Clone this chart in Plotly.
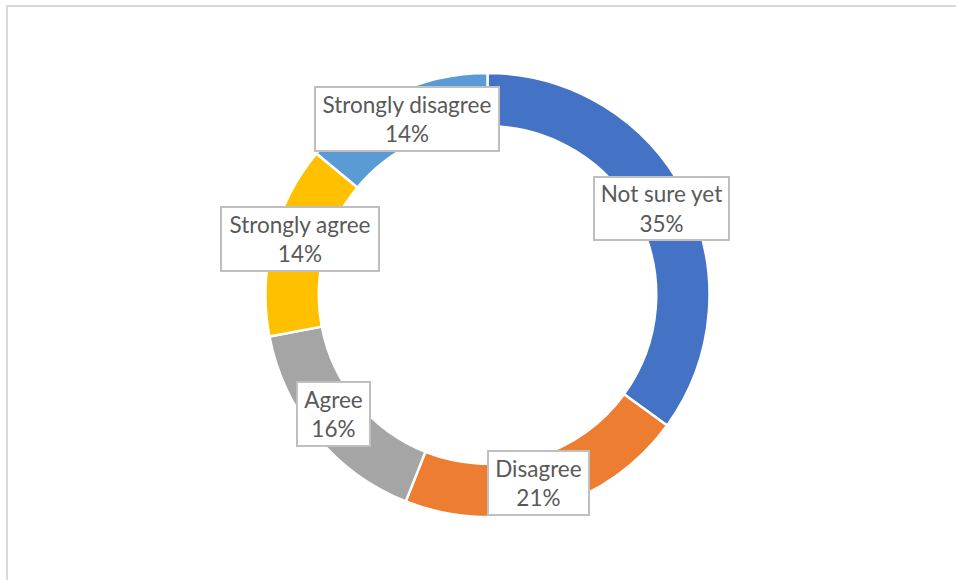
import plotly.graph_objects as go

# survey answers, clockwise from 12 o'clock
labels = ["Not sure yet", "Disagree", "Agree", "Strongly agree", "Strongly disagree"]
values = [35, 21, 16, 14, 14]
colors = ["#4472C4", "#ED7D31", "#A5A5A5", "#FFC000", "#5B9BD5"]

W, H = 956, 580


def px(x):
    return x / W


def py(y):
    return 1 - y / H


# label box centres / sizes in page pixels
label_boxes = {
    "Strongly disagree": (407, 119, 186, 66),
    "Not sure yet": (661.5, 208.5, 137, 65),
    "Strongly agree": (300, 239, 160, 66),
    "Agree": (333.5, 414, 75, 66),
    "Disagree": (538.5, 483, 103, 66),
}

cx, cy, R = 487.5, 295, 222

fig = go.Figure()
fig.add_trace(go.Pie(
    labels=labels,
    values=values,
    hole=0.76,
    sort=False,
    direction="clockwise",
    rotation=0,
    textinfo="none",
    marker=dict(colors=colors, line=dict(color="white", width=2.5)),
    domain=dict(x=[px(cx - R), px(cx + R)], y=[py(cy + R), py(cy - R)]),
    showlegend=False,
))

total = sum(values)
for lab, val in zip(labels, values):
    x, y, w, h = label_boxes[lab]
    fig.add_annotation(
        x=px(x), y=py(y), xref="paper", yref="paper",
        xanchor="center", yanchor="middle",
        text=f"{lab}<br>{round(100 * val / total)}%",
        showarrow=False,
        font=dict(family="Lato", size=22.5, color="#595959"),
        bgcolor="white",
        bordercolor="#BFBFBF",
        borderwidth=2,
        borderpad=0,
        width=w - 4,
        height=h - 4,
        align="center",
        valign="middle",
    )

# outer chart frame (runs off right and bottom)
fig.add_shape(type="rect", xref="paper", yref="paper",
              x0=px(7), y0=-0.2, x1=1.2, y1=py(6),
              line=dict(color="#D9D9D9", width=2), layer="below")

fig.update_layout(
    width=W, height=H,
    margin=dict(l=0, r=0, t=0, b=0),
    paper_bgcolor="white",
    plot_bgcolor="white",
)

fig.write_html("out.html", config={"displayModeBar": False},
               post_script="document.body.style.margin='0';")
